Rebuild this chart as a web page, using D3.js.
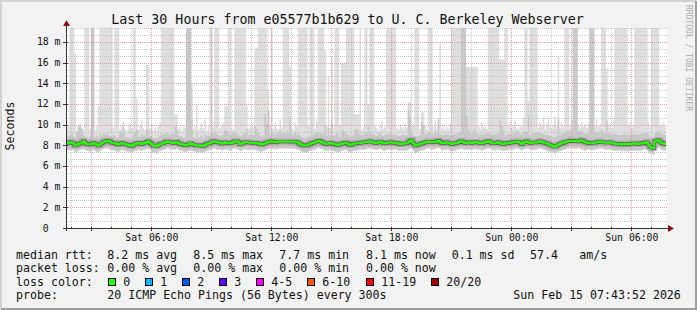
<!DOCTYPE html>
<html>
<head>
<meta charset="utf-8">
<script src="https://cdn.jsdelivr.net/npm/d3@7/dist/d3.min.js"></script>
<style>
    body { margin: 0; background: #f2f2f2; }
    svg text { font-family: "DejaVu Sans Mono", monospace; white-space: pre; fill: #111; }
</style>
</head>
<body>
<div id="chart"></div>
<script>
// Smokeping graph - last 30 hours of pings

let startTime = new Date(2026, 1, 14, 1, 43, 52);
let endTime = new Date(2026, 1, 15, 7, 43, 52);
let stepMinutes = 5;

// median rtt in ms, one row per hour (12 steps of 5 min)
let medianRtt = [
    [8.23, 8.26, 8.29, 8.24, 8.19, 7.97, 8.05, 8.13, 8.18, 8.26, 8.39, 8.25],
    [8.13, 8.10, 8.07, 8.15, 8.23, 8.15, 8.07, 7.97, 8.08, 8.19, 8.30, 8.39],
    [8.42, 8.45, 8.35, 8.26, 8.22, 8.19, 8.12, 8.07, 8.15, 8.23, 8.18, 8.13],
    [8.08, 8.03, 7.98, 7.94, 8.05, 8.13, 8.18, 8.23, 8.17, 8.13, 8.20, 8.26],
    [8.32, 8.39, 8.23, 8.10, 7.97, 7.95, 7.94, 8.04, 8.13, 8.16, 8.19, 8.28],
    [8.36, 8.32, 8.29, 8.26, 8.23, 8.28, 8.32, 8.22, 8.13, 8.10, 8.07, 8.03],
    [8.00, 8.10, 8.19, 8.13, 8.07, 8.02, 7.97, 7.99, 8.00, 7.97, 7.94, 8.04],
    [8.13, 8.18, 8.23, 8.31, 8.39, 8.36, 8.29, 8.27, 8.25, 8.18, 8.23, 8.29],
    [8.26, 8.22, 8.19, 8.26, 8.33, 8.39, 8.39, 8.30, 8.13, 8.18, 8.24, 8.29],
    [8.29, 8.27, 8.25, 8.24, 8.23, 8.23, 8.23, 8.18, 8.12, 8.07, 8.15, 8.21],
    [8.26, 8.31, 8.36, 8.39, 8.34, 8.29, 8.32, 8.36, 8.36, 8.36, 8.36, 8.36],
    [8.36, 8.35, 8.36, 8.36, 8.36, 8.35, 8.33, 8.24, 8.13, 8.05, 8.00, 7.97],
    [7.97, 8.05, 8.13, 8.20, 8.25, 8.29, 8.36, 8.45, 8.40, 8.33, 8.23, 8.18],
    [8.13, 8.18, 8.23, 8.20, 8.15, 8.10, 8.06, 8.03, 8.10, 8.16, 8.20, 8.23],
    [8.26, 8.10, 8.03, 8.08, 8.16, 8.18, 8.20, 8.22, 8.23, 8.26, 8.29, 8.29],
    [8.33, 8.36, 8.39, 8.33, 8.28, 8.23, 8.23, 8.30, 8.36, 8.28, 8.19, 8.22],
    [8.25, 8.27, 8.29, 8.27, 8.25, 8.23, 8.23, 8.18, 8.13, 8.15, 8.17, 8.19],
    [8.19, 8.30, 8.42, 8.50, 8.20, 7.97, 8.02, 8.07, 8.12, 8.18, 8.23, 8.28],
    [8.32, 8.36, 8.33, 8.31, 8.29, 8.34, 8.40, 8.45, 8.32, 8.19, 8.22, 8.26],
    [8.29, 8.24, 8.19, 8.13, 8.17, 8.20, 8.23, 8.30, 8.37, 8.39, 8.30, 8.23],
    [8.26, 8.29, 8.26, 8.23, 8.27, 8.32, 8.29, 8.26, 8.22, 8.19, 8.24, 8.29],
    [8.34, 8.39, 8.31, 8.23, 8.21, 8.19, 8.24, 8.29, 8.22, 8.16, 8.13, 8.20],
    [8.19, 8.22, 8.25, 8.27, 8.29, 8.32, 8.34, 8.36, 8.25, 8.13, 8.26, 8.35],
    [8.39, 8.31, 8.23, 8.24, 8.26, 8.27, 8.29, 8.34, 8.39, 8.31, 8.27, 8.23],
    [8.19, 8.10, 8.04, 7.97, 7.92, 7.87, 7.95, 8.07, 8.13, 8.19, 8.24, 8.29],
    [8.36, 8.40, 8.42, 8.44, 8.45, 8.41, 8.38, 8.36, 8.43, 8.50, 8.40, 8.29],
    [8.26, 8.22, 8.19, 8.21, 8.24, 8.26, 8.30, 8.33, 8.36, 8.31, 8.28, 8.27],
    [8.26, 8.27, 8.29, 8.24, 8.19, 8.16, 8.15, 8.13, 8.10, 8.07, 8.12, 8.16],
    [8.12, 8.07, 8.12, 8.16, 8.19, 8.17, 8.15, 8.13, 8.17, 8.20, 8.23, 8.26],
    [8.29, 8.10, 7.87, 7.80, 7.74, 8.39, 8.45, 8.50, 8.37, 8.23, 8.18, 8.13]
].flat();

// highest ping of each step in ms (30 = off the top of the graph)
let maxPing = [
    [9.6, 9.8, 30, 30, 30, 16.9, 9.4, 10.0, 10.2, 9.7, 9.5, 30],
    [30, 30, 9.6, 30, 30, 9.4, 9.8, 11.8, 30, 30, 30, 30],
    [30, 30, 30, 30, 9.7, 30, 30, 30, 9.5, 9.9, 10.3, 9.6],
    [9.4, 9.8, 10.1, 9.6, 30, 30, 12.5, 9.5, 9.9, 10.4, 9.7, 9.5],
    [15.8, 15.8, 9.6, 10.0, 9.4, 9.7, 9.5, 9.9, 10.2, 30, 30, 30],
    [30, 30, 30, 30, 30, 11.0, 11.0, 9.6, 9.8, 9.4, 9.9, 9.7],
    [30, 30, 30, 14.0, 9.6, 9.8, 12.0, 9.5, 9.7, 10.1, 9.6, 10.5],
    [9.4, 9.9, 30, 30, 9.8, 30, 30, 30, 9.6, 9.9, 10.2, 11.8],
    [11.8, 30, 30, 9.7, 9.5, 30, 30, 30, 30, 30, 30, 30],
    [11.9, 9.6, 9.8, 10.0, 9.7, 17.4, 17.4, 30, 30, 30, 30, 30],
    [30, 13.4, 9.9, 30, 9.6, 10.1, 9.7, 9.5, 10.4, 9.8, 30, 30],
    [30, 30, 15.6, 9.7, 9.5, 10.2, 9.8, 30, 30, 30, 30, 30],
    [30, 9.9, 30, 30, 30, 9.6, 10.3, 30, 30, 30, 30, 17.2],
    [9.8, 14.6, 9.7, 16.5, 9.6, 30, 30, 30, 10.0, 16.0, 16.0, 16.0],
    [30, 30, 30, 30, 30, 11.0, 11.0, 11.0, 30, 9.5, 9.8, 30],
    [30, 12.0, 30, 30, 30, 10.0, 9.7, 9.4, 9.9, 10.3, 9.6, 9.8],
    [30, 30, 30, 30, 30, 30, 9.7, 9.5, 10.0, 9.8, 9.6, 10.1],
    [9.7, 12.2, 12.2, 9.8, 10.1, 30, 30, 30, 9.6, 11.2, 11.2, 9.9],
    [9.5, 30, 30, 30, 9.8, 10.4, 9.6, 9.9, 17.8, 9.7, 10.0, 9.5],
    [9.8, 9.6, 10.1, 30, 30, 30, 30, 30, 30, 30, 30, 30],
    [15.6, 15.6, 15.6, 15.6, 15.6, 15.6, 15.6, 9.9, 9.6, 10.2, 9.7, 9.8],
    [9.6, 30, 30, 30, 30, 30, 30, 30, 16.3, 16.3, 16.3, 30],
    [30, 9.8, 10.3, 9.6, 9.9, 10.4, 9.7, 9.5, 10.0, 9.8, 10.6, 30],
    [30, 12.3, 30, 30, 30, 30, 30, 9.7, 10.2, 9.9, 10.7, 9.6],
    [10.1, 10.5, 9.8, 9.6, 10.0, 10.8, 9.9, 16.6, 9.7, 10.2, 9.8, 30],
    [30, 30, 9.9, 10.4, 30, 30, 30, 10.0, 9.7, 10.3, 9.8, 10.1],
    [9.7, 10.2, 30, 30, 30, 9.9, 10.5, 9.8, 10.0, 30, 30, 30],
    [15.5, 9.8, 10.1, 9.6, 10.4, 30, 30, 30, 30, 30, 30, 30],
    [30, 9.9, 10.2, 9.7, 10.0, 30, 30, 30, 30, 30, 30, 30],
    [30, 10.3, 9.8, 30, 30, 30, 30, 30, 9.9, 10.0, 10.2, 9.8]
].flat();

// upper part of the smoke (most pings below this), ms
let upperPing = [
    [8.9, 8.8, 9.0, 9.1, 8.9, 8.7, 9.3, 9.9, 9.9, 9.6, 9.0, 8.9],
    [8.8, 8.7, 8.9, 30, 30, 8.8, 8.9, 8.6, 9.1, 8.9, 9.2, 9.0],
    [9.1, 9.0, 8.9, 8.8, 9.0, 8.9, 8.7, 8.8, 9.4, 9.2, 9.7, 8.8],
    [8.7, 8.8, 8.6, 8.7, 9.0, 9.3, 9.5, 8.9, 8.8, 9.1, 8.9, 9.0],
    [9.6, 9.4, 8.9, 8.8, 8.6, 8.7, 8.6, 8.8, 8.9, 9.2, 9.0, 9.1],
    [9.3, 9.1, 9.0, 9.2, 9.1, 9.8, 9.6, 9.0, 8.8, 8.9, 8.7, 8.8],
    [30, 30, 30, 10.4, 8.8, 8.7, 9.2, 8.6, 8.8, 8.9, 8.6, 9.1],
    [8.9, 8.9, 9.1, 9.3, 9.2, 9.4, 9.1, 9.0, 8.9, 8.9, 9.1, 9.5],
    [9.4, 9.3, 9.0, 9.1, 9.2, 9.3, 9.1, 9.0, 8.9, 9.0, 9.1, 9.2],
    [9.6, 9.0, 9.0, 9.1, 8.9, 9.9, 9.6, 9.2, 8.9, 8.8, 9.0, 11.0],
    [10.2, 11.4, 9.1, 9.3, 9.2, 9.0, 9.1, 9.2, 9.5, 9.1, 9.3, 9.2],
    [9.4, 9.2, 10.5, 9.1, 9.0, 9.3, 9.0, 9.2, 8.9, 8.8, 8.7, 8.7],
    [8.8, 8.8, 8.9, 9.0, 9.1, 9.1, 9.3, 9.3, 9.2, 9.1, 9.1, 9.9],
    [8.9, 9.7, 9.0, 10.1, 8.9, 9.0, 9.2, 9.1, 8.8, 9.4, 9.5, 9.3],
    [9.1, 9.0, 8.8, 8.9, 9.0, 9.6, 9.5, 9.4, 9.1, 9.0, 9.0, 9.2],
    [9.3, 9.8, 9.2, 9.1, 9.1, 9.0, 8.9, 9.1, 9.2, 9.0, 8.9, 9.0],
    [9.1, 9.1, 9.2, 9.0, 9.1, 9.0, 9.0, 8.9, 8.9, 9.0, 9.1, 8.9],
    [9.0, 11.5, 10.8, 9.3, 9.0, 8.9, 8.9, 8.9, 9.0, 10.2, 9.9, 9.1],
    [9.1, 9.2, 9.3, 9.1, 9.1, 9.3, 9.2, 10.6, 9.1, 9.0, 9.0, 9.1],
    [9.1, 9.0, 9.0, 9.0, 9.1, 9.1, 9.1, 9.2, 9.3, 30, 30, 30],
    [10.8, 9.6, 9.3, 9.1, 9.4, 9.6, 9.2, 9.1, 9.0, 9.0, 9.1, 9.1],
    [9.2, 9.3, 9.1, 9.0, 9.0, 9.1, 9.1, 9.2, 10.4, 9.9, 9.4, 9.0],
    [9.0, 9.1, 9.1, 9.0, 9.2, 9.3, 9.4, 9.3, 9.1, 9.0, 9.3, 9.4],
    [9.3, 10.9, 9.0, 9.1, 9.2, 9.2, 9.2, 9.2, 9.3, 9.1, 9.1, 9.0],
    [9.0, 9.0, 8.9, 8.8, 8.8, 8.8, 8.9, 10.5, 9.0, 9.1, 9.2, 9.3],
    [9.4, 9.4, 9.4, 9.5, 30, 30, 30, 9.3, 9.4, 9.4, 9.2, 9.1],
    [9.1, 9.1, 30, 30, 30, 9.2, 9.2, 9.2, 9.3, 9.5, 9.2, 9.1],
    [10.4, 9.2, 9.1, 9.0, 9.1, 9.1, 9.1, 9.0, 9.0, 9.0, 9.1, 9.1],
    [9.0, 9.0, 9.0, 9.1, 9.1, 9.1, 9.1, 9.0, 9.1, 9.1, 9.2, 9.2],
    [9.3, 9.0, 8.8, 8.8, 8.8, 9.2, 9.3, 9.4, 9.3, 9.1, 9.1, 9.0]
].flat();

// lowest ping of each step, ms
let lowerPing = [
    [7.6, 7.5, 7.6, 7.5, 7.6, 7.3, 7.4, 7.5, 7.6, 7.6, 7.7, 7.6],
    [7.5, 7.5, 7.4, 7.5, 7.6, 7.5, 7.4, 7.3, 7.5, 7.6, 7.7, 7.7],
    [7.7, 7.7, 7.6, 7.6, 7.5, 7.5, 7.4, 7.4, 7.5, 7.6, 7.5, 7.5],
    [7.4, 7.4, 7.3, 7.3, 7.4, 7.5, 7.5, 7.6, 7.5, 7.5, 7.6, 7.6],
    [7.7, 7.7, 7.6, 7.4, 7.3, 7.3, 7.2, 7.4, 7.5, 7.5, 7.6, 7.6],
    [7.7, 7.7, 7.6, 7.6, 7.6, 7.6, 7.7, 7.6, 7.5, 7.5, 7.4, 7.4],
    [7.4, 7.5, 7.5, 7.5, 7.4, 7.4, 7.3, 7.3, 7.4, 7.3, 7.3, 7.4],
    [7.5, 7.5, 7.6, 7.6, 7.7, 7.7, 7.6, 7.6, 7.6, 7.5, 7.6, 7.6],
    [7.6, 7.6, 7.5, 7.6, 7.7, 7.7, 7.7, 7.6, 7.5, 7.5, 7.6, 7.6],
    [7.6, 7.6, 7.6, 7.6, 7.6, 7.6, 7.5, 7.5, 7.4, 7.4, 7.5, 7.5],
    [7.6, 7.7, 7.7, 7.7, 7.7, 7.6, 7.7, 7.7, 7.7, 7.7, 7.7, 7.7],
    [7.7, 7.7, 7.7, 7.7, 7.7, 7.7, 7.6, 7.6, 7.5, 7.4, 7.3, 7.3],
    [7.3, 7.4, 7.5, 7.5, 7.6, 7.6, 7.7, 7.8, 7.7, 7.7, 7.6, 7.5],
    [7.5, 7.5, 7.6, 7.5, 7.5, 7.4, 7.4, 7.3, 7.4, 7.5, 7.5, 7.6],
    [7.6, 7.4, 7.3, 7.4, 7.5, 7.5, 7.5, 7.6, 7.6, 7.6, 7.6, 7.6],
    [7.7, 7.7, 7.7, 7.7, 7.6, 7.6, 7.6, 7.6, 7.7, 7.6, 7.5, 7.5],
    [7.6, 7.6, 7.6, 7.6, 7.6, 7.6, 7.6, 7.5, 7.5, 7.5, 7.5, 7.5],
    [7.5, 7.6, 7.7, 7.8, 7.5, 7.2, 7.3, 7.4, 7.5, 7.5, 7.6, 7.6],
    [7.7, 7.7, 7.7, 7.6, 7.6, 7.7, 7.7, 7.8, 7.7, 7.5, 7.6, 7.6],
    [7.6, 7.6, 7.5, 7.4, 7.5, 7.5, 7.6, 7.6, 7.7, 7.7, 7.6, 7.6],
    [7.6, 7.6, 7.6, 7.6, 7.6, 7.7, 7.6, 7.6, 7.6, 7.5, 7.6, 7.6],
    [7.7, 7.7, 7.7, 7.6, 7.6, 7.5, 7.6, 7.6, 7.6, 7.5, 7.5, 7.5],
    [7.5, 7.6, 7.6, 7.6, 7.6, 7.7, 7.7, 7.7, 7.6, 7.5, 7.6, 7.7],
    [7.7, 7.7, 7.6, 7.6, 7.6, 7.6, 7.6, 7.7, 7.7, 7.7, 7.6, 7.6],
    [7.5, 7.4, 7.4, 7.3, 7.3, 7.2, 7.3, 7.4, 7.5, 7.5, 7.6, 7.6],
    [7.7, 7.7, 7.8, 7.8, 7.7, 7.7, 7.7, 7.8, 7.7, 7.6, 7.6, 7.5],
    [7.6, 7.6, 7.6, 7.5, 7.6, 7.6, 7.6, 7.7, 7.7, 7.7, 7.7, 7.6],
    [7.6, 7.6, 7.6, 7.6, 7.5, 7.5, 7.5, 7.5, 7.5, 7.4, 7.5, 7.5],
    [7.5, 7.4, 7.5, 7.5, 7.5, 7.5, 7.5, 7.5, 7.5, 7.5, 7.6, 7.6],
    [7.6, 7.4, 7.2, 7.2, 7.1, 7.6, 7.7, 7.8, 7.7, 7.6, 7.5, 7.5]
].flat();

// axis + legend texts
let yTicks = [0, 2, 4, 6, 8, 10, 12, 14, 16, 18];
let yMax = 19.35;
let titleText = "Last 30 Hours from e05577b1b629 to U. C. Berkeley Webserver";
let rttStats = ["8.2 ms avg", "8.5 ms max", "7.7 ms min", "8.1 ms now", "0.1 ms sd", "57.4", "am/s"];
let lossStats = ["0.00 % avg", "0.00 % max", "0.00 % min", "0.00 % now"];
let lossLabels = ["0", "1", "2", "3", "4-5", "6-10", "11-19", "20/20"];
let lossColors = ["#26ff00", "#00b8ff", "#0059ff", "#5e00ff", "#ff00ff", "#ff5500", "#ff0000", "#a10000"];
let probeText = "20 ICMP Echo Pings (56 Bytes) every 300s";
let stampText = "Sun Feb 15 07:43:52 2026";


class SmokeChart {

    constructor(parentElement) {
        this.parentElement = parentElement;
        this.initVis();
    }

    initVis() {
        let vis = this;

        vis.width = 697;
        vis.height = 310;
        vis.plot = {left: 66, right: 666, top: 28, bottom: 228};

        vis.svg = d3.select("#" + vis.parentElement).append("svg")
            .attr("width", vis.width)
            .attr("height", vis.height);

        // background + 3d frame
        vis.svg.append("rect").attr("width", vis.width).attr("height", vis.height).attr("fill", "#f2f2f2");
        vis.svg.append("path").attr("d", "M1,309V1H696").attr("fill", "none").attr("stroke", "#d2d2d2").attr("stroke-width", 2);
        vis.svg.append("path").attr("d", "M1,309H696V1").attr("fill", "none").attr("stroke", "#9e9e9e").attr("stroke-width", 2);

        vis.svg.append("rect")
            .attr("x", vis.plot.left).attr("y", vis.plot.top)
            .attr("width", vis.plot.right - vis.plot.left + 1)
            .attr("height", vis.plot.bottom - vis.plot.top)
            .attr("fill", "#ffffff");

        vis.svg.append("clipPath").attr("id", "plot-clip")
            .append("rect")
            .attr("x", vis.plot.left).attr("y", vis.plot.top)
            .attr("width", vis.plot.right - vis.plot.left)
            .attr("height", vis.plot.bottom - vis.plot.top);

        // Scales
        vis.x = d3.scaleTime()
            .domain([startTime, endTime])
            .range([vis.plot.left, vis.plot.right]);

        vis.y = d3.scaleLinear()
            .domain([0, yMax])
            .range([vis.plot.bottom, vis.plot.top]);

        // one entry per step, plus a closing one for the step curve
        let n = medianRtt.length;
        vis.steps = d3.range(n + 1).map(i => ({
            t: d3.timeMinute.offset(startTime, i * stepMinutes),
            i: Math.min(i, n - 1)
        }));

        vis.drawSmoke();
        vis.drawGrid();
        vis.drawMedian();
        vis.drawAxes();
        vis.drawLegend();
    }

    drawSmoke() {
        let vis = this;
        let g = vis.svg.append("g").attr("clip-path", "url(#plot-clip)");

        let band = (lo, hi) => d3.area()
            .curve(d3.curveStepAfter)
            .x(d => vis.x(d.t))
            .y0(d => vis.y(lo[d.i]))
            .y1(d => vis.y(hi[d.i]));

        g.append("path").datum(vis.steps)
            .attr("d", band(lowerPing, maxPing))
            .attr("fill", "#dedede");

        g.append("path").datum(vis.steps)
            .attr("d", band(lowerPing, upperPing))
            .attr("fill", "#c8c8c8");
    }

    drawGrid() {
        let vis = this;
        let g = vis.svg.append("g").attr("class", "grid");

        // minor rows every 2/3 ms
        let minor = d3.range(0, 30).map(k => k * 2 / 3).filter((v, k) => v <= yMax && k % 3 !== 0);
        let crisp = v => Math.round(v) + 0.5;

        g.selectAll("line.hminor").data(minor).enter().append("line")
            .attr("x1", vis.plot.left).attr("x2", vis.plot.right + 1)
            .attr("y1", d => crisp(vis.y(d))).attr("y2", d => crisp(vis.y(d)))
            .attr("stroke", "#c6c6c6").attr("stroke-dasharray", "1,1");

        let hours = d3.timeHour.range(startTime, endTime);
        g.selectAll("line.vminor").data(hours.filter(d => d.getHours() % 3 !== 0)).enter().append("line")
            .attr("x1", d => crisp(vis.x(d))).attr("x2", d => crisp(vis.x(d)))
            .attr("y1", vis.plot.top).attr("y2", vis.plot.bottom)
            .attr("stroke", "#c6c6c6").attr("stroke-dasharray", "1,1");

        g.selectAll("line.hmajor").data(yTicks.slice(1)).enter().append("line")
            .attr("x1", vis.plot.left).attr("x2", vis.plot.right + 1)
            .attr("y1", d => crisp(vis.y(d))).attr("y2", d => crisp(vis.y(d)))
            .attr("stroke", "#e79a9a").attr("stroke-dasharray", "1,1");

        g.selectAll("line.vmajor").data(hours.filter(d => d.getHours() % 3 === 0)).enter().append("line")
            .attr("x1", d => crisp(vis.x(d))).attr("x2", d => crisp(vis.x(d)))
            .attr("y1", vis.plot.top).attr("y2", vis.plot.bottom)
            .attr("stroke", "#e79a9a").attr("stroke-dasharray", "1,1");
    }

    drawMedian() {
        let vis = this;
        let g = vis.svg.append("g").attr("clip-path", "url(#plot-clip)");

        let line = d3.line()
            .curve(d3.curveStepAfter)
            .x(d => vis.x(d.t))
            .y(d => vis.y(medianRtt[d.i]));

        // dense smoke right around the median
        g.append("path").datum(vis.steps)
            .attr("d", line).attr("fill", "none")
            .attr("stroke", "#8a8a8a").attr("stroke-width", 6).attr("stroke-opacity", 0.45);
        g.append("path").datum(vis.steps)
            .attr("d", line).attr("fill", "none")
            .attr("stroke", "#2a2a2a").attr("stroke-width", 3.4).attr("stroke-opacity", 0.6);

        g.append("path").datum(vis.steps)
            .attr("d", line).attr("fill", "none")
            .attr("stroke", lossColors[0]).attr("stroke-width", 2);
    }

    drawAxes() {
        let vis = this;
        let g = vis.svg.append("g").attr("class", "axes");
        let crisp = v => Math.round(v) + 0.5;

        // x axis line + arrow
        g.append("line")
            .attr("x1", vis.plot.left - 3).attr("x2", vis.plot.right + 3)
            .attr("y1", vis.plot.bottom + 0.5).attr("y2", vis.plot.bottom + 0.5)
            .attr("stroke", "#333");
        g.append("path")
            .attr("d", `M${vis.plot.right + 2},${vis.plot.bottom - 3}L${vis.plot.right + 8},${vis.plot.bottom + 0.5}L${vis.plot.right + 2},${vis.plot.bottom + 4}Z`)
            .attr("fill", "#8a1010");

        // y axis line + arrow
        g.append("line")
            .attr("x1", vis.plot.left + 0.5).attr("x2", vis.plot.left + 0.5)
            .attr("y1", vis.plot.bottom + 3).attr("y2", vis.plot.top - 3)
            .attr("stroke", "#333");
        g.append("path")
            .attr("d", `M${vis.plot.left - 3},${vis.plot.top - 2}L${vis.plot.left + 0.5},${vis.plot.top - 8}L${vis.plot.left + 4},${vis.plot.top - 2}Z`)
            .attr("fill", "#8a1010");

        // hour ticks under the axis
        let hours = d3.timeHour.range(startTime, endTime);
        g.selectAll("line.xtick").data(hours).enter().append("line")
            .attr("x1", d => crisp(vis.x(d))).attr("x2", d => crisp(vis.x(d)))
            .attr("y1", vis.plot.bottom - 1)
            .attr("y2", d => vis.plot.bottom + (d.getHours() % 3 === 0 ? 3 : 1))
            .attr("stroke", "#333");

        g.selectAll("line.ytick").data(yTicks).enter().append("line")
            .attr("x1", vis.plot.left - 3).attr("x2", vis.plot.left + 2)
            .attr("y1", d => crisp(vis.y(d))).attr("y2", d => crisp(vis.y(d)))
            .attr("stroke", "#333");

        // labels
        let fmt = d3.timeFormat("%a %H:%M");
        g.selectAll("text.xlabel").data(hours.filter(d => d.getHours() % 6 === 0)).enter().append("text")
            .attr("x", d => vis.x(d) + 0.5)
            .attr("y", 240.5)
            .attr("text-anchor", "middle")
            .attr("font-size", "9.8px")
            .text(fmt);

        g.selectAll("text.ylabel").data(yTicks).enter().append("text")
            .attr("x", 60.5)
            .attr("y", d => vis.y(d) + 3.5)
            .attr("text-anchor", "end")
            .attr("font-size", "9.8px")
            .text(d => d === 0 ? "0  " : d + " m");

        g.append("text")
            .attr("transform", "translate(13.5,126) rotate(-90)")
            .attr("text-anchor", "middle")
            .attr("font-size", "11.6px")
            .text("Seconds");

        vis.svg.append("text")
            .attr("x", 347.5).attr("y", 23.5)
            .attr("text-anchor", "middle")
            .attr("font-size", "13.3px")
            .text(titleText);

        vis.svg.append("text")
            .attr("transform", "translate(685.5,5) rotate(90)")
            .attr("font-size", "8px")
            .style("fill", "#ababab")
            .text("RRDTOOL / TOBI OETIKER");
    }

    drawLegend() {
        let vis = this;
        let g = vis.svg.append("g").attr("class", "legend").attr("font-size", "11.6px");
        let statX = [107.3, 193.3, 279.3, 366, 451.7, 530, 579.3];
        let rows = [258.5, 272, 285.5, 299];

        g.append("text").attr("x", 16).attr("y", rows[0]).text("median rtt:");
        g.selectAll("text.rtt").data(rttStats).enter().append("text")
            .attr("x", (d, i) => statX[i]).attr("y", rows[0]).text(d => d);

        g.append("text").attr("x", 16).attr("y", rows[1]).text("packet loss:");
        g.selectAll("text.loss").data(lossStats).enter().append("text")
            .attr("x", (d, i) => statX[i]).attr("y", rows[1]).text(d => d);

        let swatchX = [108.5, 145.5, 182.5, 219.5, 256.5, 307.5, 366.5, 431.5];
        g.append("text").attr("x", 16).attr("y", rows[2]).text("loss color:");
        g.selectAll("rect.swatch").data(lossColors).enter().append("rect")
            .attr("x", (d, i) => swatchX[i]).attr("y", 278.5)
            .attr("width", 7).attr("height", 7)
            .attr("fill", d => d).attr("stroke", "#000");
        g.selectAll("text.swatch").data(lossLabels).enter().append("text")
            .attr("x", (d, i) => swatchX[i] + 14.8).attr("y", rows[2]).text(d => d);

        g.append("text").attr("x", 16).attr("y", rows[3]).text("probe:");
        g.append("text").attr("x", 107.3).attr("y", rows[3]).text(probeText);
        g.append("text").attr("x", 513.3).attr("y", rows[3]).text(stampText);
    }
}

new SmokeChart("chart");
</script>
</body>
</html>
